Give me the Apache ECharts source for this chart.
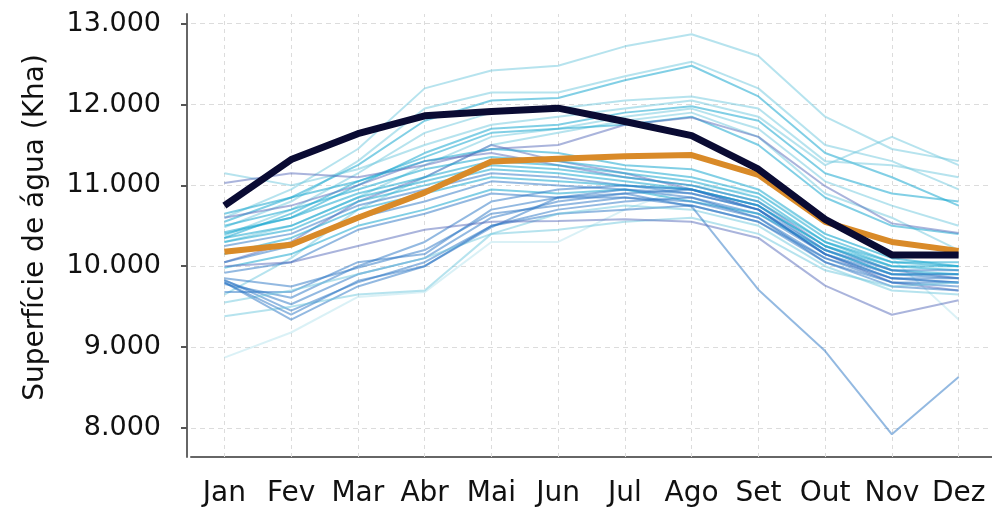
<!DOCTYPE html>
<html>
<head>
<meta charset="utf-8">
<script src="https://cdn.jsdelivr.net/npm/echarts@6/dist/echarts.min.js"></script>
<style>
html,body{margin:0;padding:0;background:#fff;}
#c{width:992px;height:511px;}
</style>
</head>
<body>
<div id="c"></div>
<script>
const months = ['Jan','Fev','Mar','Abr','Mai','Jun','Jul','Ago','Set','Out','Nov','Dez'];
const yTicks = [8000, 9000, 10000, 11000, 12000, 13000];

// highlighted series
const darkLine   = [10750, 11320, 11640, 11860, 11915, 11955, 11790, 11615, 11200, 10580, 10140, 10140];
const orangeLine = [10180, 10265, 10600, 10910, 11295, 11330, 11360, 11375, 11130, 10550, 10300, 10190];

// background years (high group)
const a01 = [10600, 10950, 11450, 12200, 12420, 12480, 12720, 12870, 12600, 11850, 11450, 11300];
const a02 = [10480, 10800, 11300, 11950, 12150, 12150, 12350, 12530, 12200, 11500, 11300, 10950];
const a03 = [10550, 10850, 11250, 11800, 12050, 12080, 12300, 12480, 12100, 11400, 11100, 10750];
const a04 = [10380, 10700, 11150, 11650, 11900, 11950, 12050, 12100, 11950, 11300, 11250, 11100];
const a05 = [11150, 11000, 11200, 11500, 11750, 11850, 11950, 12050, 11850, 11250, 11600, 11250];
const a06 = [10420, 10600, 11000, 11400, 11700, 11750, 11900, 11980, 11800, 11150, 10900, 10800];
const a07 = [10300, 10500, 10850, 11250, 11600, 11700, 11850, 11950, 11700, 11050, 10750, 10500];
const a08 = [9650, 10100, 10700, 11100, 11500, 11650, 11800, 11900, 11600, 10900, 10600, 10200];
const a09 = [8870, 9180, 9620, 9680, 10300, 10300, 10700, 11000, 10900, 10400, 10100, 9340];
const a10 = [10350, 10650, 11050, 11350, 11650, 11700, 11750, 11850, 11500, 10850, 10500, 10400];
// violet lines
const v01 = [11030, 11150, 11100, 11250, 11450, 11500, 11750, 11840, 11600, 10990, 10530, 10410];
const v02 = [10600, 10750, 11000, 11300, 11400, 11250, 11100, 11000, 10800, 10250, 9950, 9850];
const v03 = [10050, 10300, 10800, 11100, 11500, 11300, 11150, 10950, 10700, 10150, 9800, 9700];
// middle group
const b01 = [10650, 10850, 11050, 11300, 11450, 11400, 11250, 11200, 10950, 10400, 10100, 10000];
const b02 = [10500, 10700, 10950, 11200, 11350, 11300, 11200, 11100, 10900, 10350, 10050, 10000];
const b03 = [10400, 10600, 10900, 11100, 11300, 11250, 11150, 11050, 10850, 10300, 10000, 9950];
const b04 = [10350, 10500, 10850, 11050, 11250, 11200, 11100, 11000, 10800, 10300, 10050, 10050];
const b05 = [10300, 10450, 10800, 11000, 11200, 11150, 11050, 10950, 10750, 10250, 9950, 9900];
const b06 = [10250, 10400, 10750, 10950, 11150, 11100, 11000, 10900, 10700, 10200, 9900, 9850];
const b07 = [10150, 10350, 10700, 10900, 11100, 11050, 11000, 10950, 10750, 10250, 10000, 10000];
const b08 = [10050, 10250, 10600, 10800, 11050, 11000, 10950, 10850, 10650, 10150, 9850, 9800];
const b09 = [9980, 10150, 10500, 10700, 10950, 10900, 10950, 10800, 10650, 10200, 9900, 9900];
const b10 = [9920, 10050, 10450, 10650, 10900, 10850, 10850, 10750, 10550, 10100, 9800, 9750];
// low group
const c01 = [9830, 9450, 9800, 10050, 10500, 10650, 10700, 10750, 10550, 10050, 9800, 9800];
const c02 = [9800, 9340, 9750, 10000, 10500, 10700, 10800, 10850, 10600, 10100, 9850, 9850];
const c03 = [9820, 9530, 9900, 10100, 10600, 10800, 10900, 10950, 10700, 10150, 9900, 9900];
const c04 = [9780, 9610, 10000, 10300, 10800, 10950, 11000, 10950, 10750, 10200, 9950, 9950];
const c05 = [9680, 9680, 10050, 10150, 10700, 10850, 10950, 10900, 10700, 10150, 9850, 9800];
const c06 = [9850, 9750, 9980, 10200, 10650, 10750, 10850, 10800, 10600, 10050, 9750, 9700];
const c07 = [9550, 9700, 9900, 10100, 10400, 10650, 10750, 10700, 10500, 10000, 9700, 9650];
const c08 = [9380, 9500, 9650, 9700, 10400, 10450, 10550, 10600, 10400, 9950, 9750, 9800];
const o01 = [9800, 9400, 9820, 10000, 10480, 10850, 10900, 10740, 9710, 8950, 7920, 8630];
const o02 = [10000, 10050, 10250, 10450, 10550, 10560, 10580, 10550, 10350, 9760, 9400, 9580];

const PALE = 'rgba(110,200,222,0.5)';
const CYAN = 'rgba(25,168,208,0.55)';
const BLUE = 'rgba(40,115,195,0.5)';
const VIOL = 'rgba(85,105,185,0.5)';

const thin = [
  [a01, PALE], [a02, PALE], [a03, CYAN], [a04, PALE], [a05, PALE], [a06, CYAN], [a07, PALE],
  [a08, PALE], [a09, 'rgba(150,215,230,0.35)'], [a10, CYAN],
  [v01, VIOL], [v02, VIOL], [v03, VIOL],
  [b01, CYAN], [b02, CYAN], [b03, CYAN], [b04, CYAN], [b05, CYAN], [b06, BLUE], [b07, CYAN],
  [b08, BLUE], [b09, CYAN], [b10, BLUE],
  [c01, BLUE], [c02, BLUE], [c03, BLUE], [c04, BLUE], [c05, BLUE], [c06, BLUE],
  [c07, PALE], [c08, PALE], [o01, BLUE], [o02, VIOL]
];

const FONT = 'DejaVu Sans';
const series = thin.map(function (t, i) {
  const s = {
    type: 'line', data: t[0], symbol: 'none', silent: true,
    lineStyle: { color: t[1], width: 2 }, z: 2
  };
  if (i === 0) {
    s.markLine = {
      silent: true, symbol: 'none', z: 1,
      label: { show: false },
      lineStyle: { color: '#dcdcdc', type: [4, 4], width: 1 },
      data: months.map(function (m) { return { xAxis: m }; })
    };
  }
  return s;
});
series.push({ type: 'line', data: orangeLine, symbol: 'none', silent: true, z: 3,
  lineStyle: { color: '#d98a28', width: 6 } });
series.push({ type: 'line', data: darkLine, symbol: 'none', silent: true, z: 4,
  lineStyle: { color: '#0a0b33', width: 7 } });

const chart = echarts.init(document.getElementById('c'), null, { renderer: 'canvas' });
chart.setOption({
  animation: false,
  backgroundColor: '#fff',
  grid: { left: 191, right: -7, top: 14, bottom: 54, containLabel: false },
  xAxis: {
    type: 'category', data: months, boundaryGap: true,
    axisLine: { lineStyle: { color: '#666', width: 2 } },
    axisTick: { alignWithLabel: true, length: 5, lineStyle: { color: '#555', width: 2 } },
    axisLabel: { interval: 0, hideOverlap: false, margin: 23, color: '#111', fontFamily: FONT, fontSize: 28 },
    splitLine: { show: false }
  },
  yAxis: {
    type: 'value', min: 7640, max: 13120, offset: 4,
    minInterval: 1000, maxInterval: 1000,
    name: 'Superfície de água (Kha)', nameLocation: 'middle', nameRotate: 90, nameGap: 137,
    nameTextStyle: { color: '#111', fontFamily: FONT, fontSize: 28, padding: [0, 0, 0, 16] },
    axisLine: { show: true, lineStyle: { color: '#666', width: 2 } },
    axisTick: { show: true, length: 6, lineStyle: { color: '#555', width: 2 } },
    axisLabel: {
      margin: 26, color: '#111', fontFamily: FONT, fontSize: 27,
      showMinLabel: false, showMaxLabel: false,
      formatter: function (v) {
        if (yTicks.indexOf(v) < 0) return '';
        return String(v).replace(/\B(?=(\d{3})+(?!\d))/g, '.');
      }
    },
    splitLine: { show: true, showMinLine: false, showMaxLine: false,
      lineStyle: { color: '#dcdcdc', type: [5, 4], width: 1 } }
  },
  series: series
});
</script>
</body>
</html>
